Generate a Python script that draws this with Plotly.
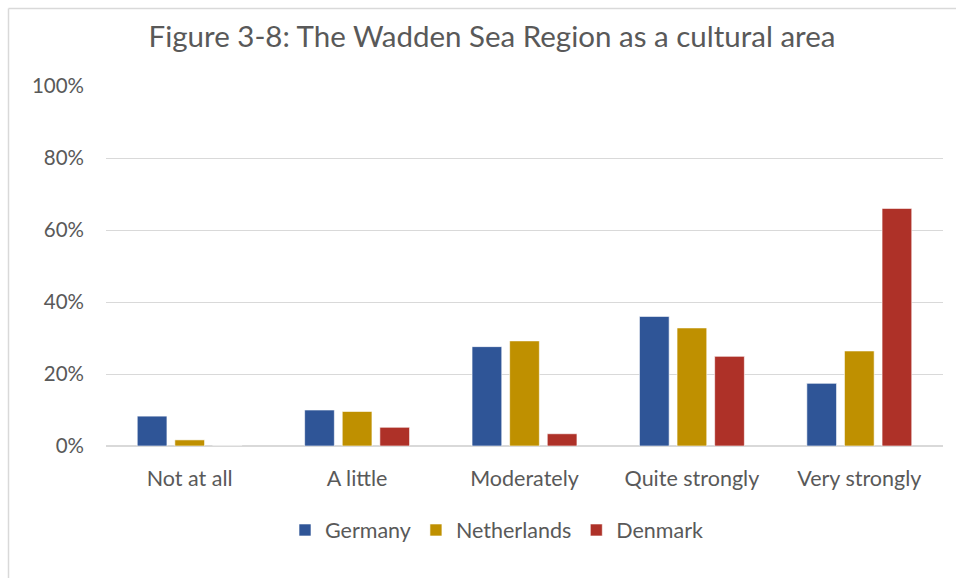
import plotly.graph_objects as go

categories = ["Not at all", "A little", "Moderately", "Quite strongly", "Very strongly"]
germany = [8.3, 10.0, 27.6, 36.0, 17.4]
netherlands = [1.7, 9.6, 29.2, 32.8, 26.4]
denmark = [0.0, 5.2, 3.4, 24.9, 66.0]
tick_vals = [0, 20, 40, 60, 80, 100]
tick_text = ["0%", "20%", "40%", "60%", "80%", "100%"]

series = [("Germany", germany, "#2F5597"),
          ("Netherlands", netherlands, "#BF9000"),
          ("Denmark", denmark, "#AE3128")]

FONT = "Lato"
fig = go.Figure()
for name, vals, col in series:
    fig.add_trace(go.Bar(x=categories, y=vals, name=name, marker_color=col,
                         marker_line=dict(color="rgba(255,255,255,0.6)", width=1)))

# body margin is removed below, so coordinates are page pixels
OFF = 0
W, H = 956, 578
L, R, T, B = 106, W - 943, 86, H - 446
pw, ph = W - L - R, H - T - B

def px(x):
    return (x - OFF - L) / pw

def py(y):
    return (H - B - (y - OFF)) / ph

fig.update_layout(
    width=W, height=H,
    margin=dict(l=L, r=R, t=T, b=B),
    paper_bgcolor="white", plot_bgcolor="white",
    barmode="group", bargap=0.326, bargroupgap=0.21,
    title=dict(text="Figure 3-8: The Wadden Sea Region as a cultural area",
               x=492 / W, xanchor="center", xref="container",
               y=1 - 37 / H, yanchor="middle", yref="container",
               font=dict(family=FONT, size=29.5, color="#595959")),
    font=dict(family=FONT, color="#595959"),
    legend=dict(orientation="h", x=px(497), xanchor="center", y=py(530), yanchor="middle",
                font=dict(size=21.5, color="#595959"), itemwidth=30, traceorder="normal"),
    xaxis=dict(showgrid=False, showline=False, ticks="", ticklabelstandoff=17,
               tickfont=dict(size=21.5, color="#595959")),
    yaxis=dict(range=[0, 100], tickvals=tick_vals, ticktext=tick_text, showgrid=True,
               gridcolor="#D9D9D9", gridwidth=1.3, zeroline=True, zerolinecolor="#D9D9D9",
               zerolinewidth=1.5, showline=False, ticks="", ticklabelstandoff=21,
               tickfont=dict(size=20.5, color="#595959")),
    shapes=[
        dict(type="line", xref="paper", yref="paper", x0=px(8.5), x1=px(990), y0=py(8.5), y1=py(8.5),
             line=dict(color="#D9D9D9", width=1.5)),
        dict(type="line", xref="paper", yref="paper", x0=px(8.5), x1=px(8.5), y0=py(8.5), y1=py(620),
             line=dict(color="#D9D9D9", width=1.5)),
    ],
)

fig.write_html("out.html", config={"displayModeBar": False},
               post_script="document.documentElement.style.overflow='hidden';"
                           "document.body.style.overflow='hidden';document.body.style.margin='0';")
